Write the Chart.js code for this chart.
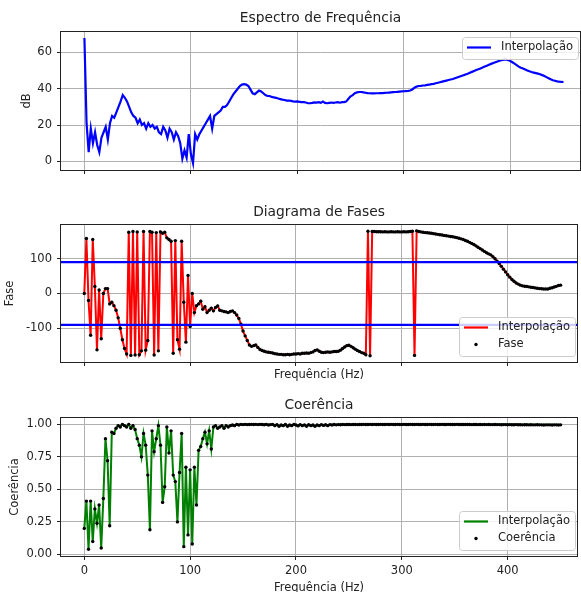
<!DOCTYPE html>
<html>
<head>
<meta charset="utf-8">
<title>Espectro, fases e coerência</title>
<script src="https://cdn.jsdelivr.net/npm/chart.js@4.4.0/dist/chart.umd.min.js"></script>
<style>
body { margin: 0; background: #fff; }
#fig { position: relative; width: 581px; height: 592px; overflow: hidden; }
canvas { position: absolute; left: 0; }
</style>
</head>
<body>
<div id="fig">
<canvas id="espectro" width="581" height="192" style="top:0"></canvas>
<canvas id="fases" width="581" height="196" style="top:192px"></canvas>
<canvas id="coerencia" width="581" height="204" style="top:388px"></canvas>
</div>
<script>
// frequencias (Hz)
var freq = [
    0, 2, 4, 6, 8, 10, 12, 14, 16, 18,
    20, 22, 24, 26, 28, 30, 32, 34, 36, 38,
    40, 42, 44, 46, 48, 50, 52, 54, 56, 58,
    60, 62, 64, 66, 68, 70, 72, 74, 76, 78,
    80, 82, 84, 86, 88, 90, 92, 94, 96, 98,
    100, 102, 104, 106, 108, 110, 112, 114, 116, 118,
    120, 122, 124, 126, 128, 130, 132, 134, 136, 138,
    140, 142, 144, 146, 148, 150, 152, 154, 156, 158,
    160, 162, 164, 166, 168, 170, 172, 174, 176, 178,
    180, 182, 184, 186, 188, 190, 192, 194, 196, 198,
    200, 202, 204, 206, 208, 210, 212, 214, 216, 218,
    220, 222, 224, 226, 228, 230, 232, 234, 236, 238,
    240, 242, 244, 246, 248, 250, 252, 254, 256, 258,
    260, 262, 264, 266, 268, 270, 272, 274, 276, 278,
    280, 282, 284, 286, 288, 290, 292, 294, 296, 298,
    300, 302, 304, 306, 308, 310, 312, 314, 316, 318,
    320, 322, 324, 326, 328, 330, 332, 334, 336, 338,
    340, 342, 344, 346, 348, 350, 352, 354, 356, 358,
    360, 362, 364, 366, 368, 370, 372, 374, 376, 378,
    380, 382, 384, 386, 388, 390, 392, 394, 396, 398,
    400, 402, 404, 406, 408, 410, 412, 414, 416, 418,
    420, 422, 424, 426, 428, 430, 432, 434, 436, 438,
    440, 442, 444, 446, 448, 450
];

// espectro em dB
var espectro = [
    68, 21, 5, 18, 10, 16, 9, 5, 13, 16,
    19, 12, 21, 25, 24, 27, 30, 33, 36.5, 35,
    33, 30, 27, 25, 24, 21, 23, 20, 21, 18,
    21, 19, 20, 18, 19, 16, 15, 19, 17, 13,
    18, 16, 12, 16, 14, 10, 1.5, 6, 2, 15,
    4, -1, 15, 12, 15, 17, 19, 21, 23, 25,
    18, 25, 26, 27, 28, 30, 30, 31, 33, 35,
    37, 38.5, 40, 41.5, 42.3, 42.5, 42.3, 41.5, 39.5, 37.5,
    37, 38, 39, 38.5, 37.5, 36.5, 36, 36, 35.5, 35.2,
    35, 34.6, 34.3, 34, 33.8, 33.5, 33.5, 33.3, 33, 32.9,
    33, 32.8, 32.6, 32.6, 32.4, 32, 32, 32.2, 32.5, 32.4,
    32.6, 32.2, 32.9, 32.2, 32, 32.2, 32.4, 32.2, 32.4, 32.6,
    32.3, 32.6, 32.6, 33, 34.5, 35.8, 36.5, 37.5, 38, 38.2,
    38.2, 38, 37.8, 37.6, 37.5, 37.4, 37.4, 37.5, 37.5, 37.6,
    37.6, 37.7, 37.8, 37.9, 38, 38.1, 38.2, 38.3, 38.4, 38.5,
    38.6, 38.7, 38.8, 39, 39.6, 40.6, 41.2, 41.5, 41.6, 41.8,
    41.9, 42.1, 42.3, 42.5, 42.7, 43, 43.3, 43.6, 43.9, 44.2,
    44.5, 44.8, 45.1, 45.4, 45.8, 46.2, 46.6, 47, 47.4, 47.9,
    48.3, 48.8, 49.3, 49.8, 50.3, 50.7, 51.2, 51.7, 52.2, 52.7,
    53.2, 53.7, 54.2, 54.6, 55, 55.4, 55.8, 56, 56.1, 55.8,
    55.3, 54.6, 53.8, 53, 52.2, 51.6, 51.1, 50.6, 50.1, 49.6,
    49.2, 48.9, 48.6, 48.3, 48, 47.5, 47, 46.4, 45.8, 45.2,
    44.7, 44.4, 44.1, 43.9, 43.8, 43.7
];

// fase em graus
var fase = [
    0, 158, -20, -120, 155, 20, -162, 10, -130, 0,
    14, 14, -30, -25, -35, -48, -70, -100, -133, -158,
    -174, 176, -178, 178, -177, 177, -176, -165, 178, -163,
    -135, 178, 176, -177, 175, -165, 177, 173, 176, 160,
    155, 150, -172, 152, -133, -160, 150, -25, -140, 52,
    -95, 0, -55, -35, -30, -22, -45, -38, -55, -48,
    -42, -50, -40, -36, -48, -50, -52, -53, -55, -52,
    -50, -55, -62, -72, -88, -108, -122, -135, -148, -152,
    -150, -148, -155, -161, -164, -166, -168, -169, -170, -171,
    -173, -174, -175, -175, -176, -176, -175, -176, -175, -174,
    -174, -173, -174, -172, -172, -171, -172, -170, -168, -164,
    -162, -166, -169, -170, -169, -168, -169, -168, -167, -167,
    -166, -163, -158, -154, -150, -149, -152, -156, -160, -164,
    -167, -170, -172, -176, 179, -179, 178, 178, 177.5, 177.5,
    177.5, 177, 177.5, 177, 177, 177.5, 177, 177, 177.5, 177,
    177, 177.5, 177, 177.5, 178, 179, -178, 180, 178, 177,
    176, 175, 174.5, 174, 173, 172, 171, 170, 169, 168,
    167, 166, 165, 164, 163, 162, 160.5, 159, 157, 155,
    152.5, 150, 147, 144, 141, 137, 133, 129, 125, 121,
    117, 114, 111, 106, 100, 93, 86, 78, 70, 62,
    54, 47, 40, 35, 30, 27, 24, 22, 21, 20,
    19, 18, 17, 16, 15, 14, 13.5, 13, 13, 13,
    15, 16.5, 18.5, 20.5, 23, 24
];

// coerencia
var coerencia = [
    0.20, 0.41, 0.04, 0.41, 0.10, 0.35, 0.24, 0.38, 0.05, 0.43,
    0.89, 0.72, 0.22, 0.94, 0.93, 0.97, 0.99, 0.98, 1.0, 0.99,
    0.98, 1.0, 0.97, 0.99, 0.96, 0.89, 0.84, 0.75, 0.93, 0.84,
    0.61, 0.19, 0.95, 0.79, 0.89, 0.99, 0.84, 0.40, 0.52, 0.98,
    0.78, 0.95, 0.61, 0.56, 0.25, 0.63, 0.93, 0.06, 0.67, 0.15,
    0.65, 0.08, 0.67, 0.38, 0.80, 0.83, 0.89, 0.94, 0.85, 0.95,
    0.81, 0.98, 0.99, 0.97, 0.98, 0.99, 0.97, 0.99, 0.98, 0.99,
    0.995, 0.99, 1.0, 0.995, 1.0, 0.998, 1.0, 0.998, 0.999, 1.0,
    0.999, 1.0, 0.998, 1.0, 0.999, 0.997, 1.0, 0.995, 0.998, 1.0,
    0.99, 0.998, 0.985, 0.995, 0.99, 1.0, 0.985, 0.995, 0.99, 1.0,
    0.995, 0.988, 0.998, 0.99, 0.996, 0.985, 0.998, 0.99, 0.995, 0.985,
    0.995, 0.99, 0.998, 0.992, 0.997, 0.99, 0.998, 0.995, 0.999, 0.996,
    0.998, 0.997, 0.999, 0.998, 0.999, 0.999, 0.998, 0.999, 0.999, 0.998,
    0.999, 0.999, 1.0, 0.999, 0.999, 1.0, 0.999, 1.0, 0.999, 0.999,
    1.0, 0.999, 0.999, 1.0, 0.999, 1.0, 0.999, 0.999, 1.0, 0.999,
    0.999, 1.0, 0.999, 0.999, 1.0, 0.999, 0.999, 1.0, 0.999, 0.999,
    1.0, 0.999, 0.999, 1.0, 0.999, 0.999, 1.0, 0.999, 0.999, 1.0,
    0.999, 0.999, 1.0, 0.999, 0.999, 0.999, 1.0, 0.999, 0.999, 0.999,
    0.999, 0.999, 0.999, 0.998, 0.999, 0.999, 0.998, 0.999, 0.998, 0.999,
    0.998, 0.999, 0.998, 0.998, 0.999, 0.998, 0.998, 0.997, 0.998, 0.998,
    0.997, 0.998, 0.997, 0.997, 0.998, 0.997, 0.997, 0.996, 0.997, 0.997,
    0.996, 0.997, 0.996, 0.996, 0.997, 0.996, 0.996, 0.995, 0.996, 0.996,
    0.996, 0.995, 0.996, 0.996, 0.995, 0.996
];

// linhas horizontais de referencia no diagrama de fases
var limiares = [90, -90];

// marcas dos eixos
var ticksFreq = [0, 100, 200, 300, 400];
var ticksDb = [0, 20, 40, 60];
var ticksFase = [-100, 0, 100];
var ticksCoer = [0, 0.25, 0.5, 0.75, 1.0];

var xMin = -22;
var xMax = 465.5;

Chart.defaults.font.family = "'DejaVu Sans', sans-serif";
Chart.defaults.font.size = 11.5;
Chart.defaults.color = "#222";

function pares(xs, ys) {
    return xs.map(function (x, i) { return { x: x, y: ys[i] }; });
}

function fixaTicks(valores) {
    return function (s) {
        s.ticks = valores.map(function (v) { return { value: v }; });
    };
}

// caixa preta em volta da area do grafico
var moldura = {
    id: "moldura",
    afterDatasetsDraw: function (chart) {
        var a = chart.chartArea;
        var ctx = chart.ctx;
        var l = Math.round(a.left), t = Math.round(a.top);
        var r = Math.round(a.right), b = Math.round(a.bottom);
        ctx.save();
        ctx.strokeStyle = "#222";
        ctx.lineWidth = 1;
        ctx.strokeRect(l - 0.5, t - 0.5, r - l + 1, b - t + 1);
        ctx.restore();
    }
};

// legenda dentro da area, estilo matplotlib
var legendaInterna = {
    id: "legendaInterna",
    afterDraw: function (chart, args, opts) {
        var itens = opts.itens || [];
        if (!itens.length) return;
        var a = chart.chartArea;
        var ctx = chart.ctx;
        var w = 116, h = 5 + 17 * itens.length;
        var x = Math.round(a.right) - w - 2;
        var y = opts.canto === "baixo" ? Math.round(a.bottom) - h - 6 : Math.round(a.top) + 5;
        ctx.save();
        ctx.beginPath();
        if (ctx.roundRect) ctx.roundRect(x + 0.5, y + 0.5, w, h, 3);
        else ctx.rect(x + 0.5, y + 0.5, w, h);
        ctx.fillStyle = "rgba(255,255,255,0.8)";
        ctx.fill();
        ctx.strokeStyle = "#cccccc";
        ctx.lineWidth = 1;
        ctx.stroke();
        ctx.font = "11.5px 'DejaVu Sans'";
        ctx.textBaseline = "middle";
        itens.forEach(function (it, i) {
            var yy = y + 10.5 + 17 * i;
            if (it.tipo === "linha") {
                ctx.beginPath();
                ctx.moveTo(x + 5, yy);
                ctx.lineTo(x + 29, yy);
                ctx.strokeStyle = it.cor;
                ctx.lineWidth = 2.2;
                ctx.stroke();
            } else {
                ctx.beginPath();
                ctx.arc(x + 17, yy, 1.7, 0, Math.PI * 2);
                ctx.fillStyle = it.cor;
                ctx.fill();
            }
            ctx.fillStyle = "#222";
            ctx.fillText(it.texto, x + 39, yy);
        });
        ctx.restore();
    }
};

function eixoX(rotulos, titulo, altura, tituloPad) {
    return {
        type: "linear",
        min: xMin,
        max: xMax,
        afterFit: function (s) { s.height = altura; },
        afterBuildTicks: fixaTicks(ticksFreq),
        ticks: { display: rotulos, padding: 4.5, color: "#222" },
        grid: { color: "#b0b0b0", lineWidth: 1, tickLength: 4, tickColor: "#222" },
        border: { display: false },
        title: { display: !!titulo, text: titulo || "", color: "#222", padding: { top: 0, bottom: tituloPad || 0 } }
    };
}

function eixoY(min, max, marcas, titulo, tituloPad, formato) {
    return {
        min: min,
        max: max,
        afterFit: function (s) { s.width = 61; },
        afterBuildTicks: fixaTicks(marcas),
        ticks: {
            padding: 5,
            color: "#222",
            callback: formato || function (v) { return v; }
        },
        grid: { color: "#b0b0b0", lineWidth: 1, tickLength: 4, tickColor: "#222" },
        border: { display: false },
        title: { display: true, text: titulo, color: "#222", padding: { top: tituloPad, bottom: 0 } }
    };
}

function titulo(texto, pt, pb) {
    return {
        display: true,
        text: texto,
        fullSize: false,
        color: "#222",
        font: { size: 13.8, weight: "normal" },
        padding: { top: pt, bottom: pb }
    };
}

var base = {
    responsive: false,
    animation: false,
    devicePixelRatio: 1,
    layout: { padding: { left: 0, right: 1, top: 0, bottom: 0 } }
};

// espectro de frequencia
new Chart(document.getElementById("espectro"), {
    type: "line",
    data: {
        datasets: [
            {
                label: "Interpolação",
                data: pares(freq, espectro),
                borderColor: "#0000ff",
                borderWidth: 2.2,
                pointRadius: 0,
                fill: false,
                lineTension: 0
            }
        ]
    },
    options: Object.assign({}, base, {
        scales: {
            x: eixoX(false, "", 22),
            y: eixoY(-4.8, 71.3, ticksDb, "dB", 19.8)
        },
        plugins: {
            legend: { display: false },
            tooltip: { enabled: false },
            title: titulo("Espectro de Frequência", 10.5, 4.9),
            legendaInterna: { canto: "topo", itens: [{ tipo: "linha", cor: "#0000ff", texto: "Interpolação" }] }
        }
    }),
    plugins: [moldura, legendaInterna]
});

// diagrama de fases
var dsFases = [
    {
        label: "Interpolação",
        data: pares(freq, fase),
        borderColor: "#ff0000",
        borderWidth: 2,
        pointRadius: 0,
        fill: false,
        lineTension: 0,
        order: 3
    },
    {
        label: "Fase",
        data: pares(freq, fase),
        showLine: false,
        pointRadius: 1.7,
        pointBorderWidth: 0,
        pointBackgroundColor: "#000",
        order: 2
    }
];
limiares.forEach(function (v) {
    dsFases.push({
        label: "limiar " + v,
        data: [{ x: xMin, y: v }, { x: xMax, y: v }],
        borderColor: "#0000ff",
        borderWidth: 2.2,
        pointRadius: 0,
        fill: false,
        order: 1
    });
});

new Chart(document.getElementById("fases"), {
    type: "line",
    data: { datasets: dsFases },
    options: Object.assign({}, base, {
        scales: {
            x: eixoX(false, "Frequência (Hz)", 26, 6.3),
            y: eixoY(-197, 197, ticksFase, "Fase", 3.1)
        },
        plugins: {
            legend: { display: false },
            tooltip: { enabled: false },
            title: titulo("Diagrama de Fases", 12, 4.4),
            legendaInterna: {
                canto: "baixo",
                itens: [
                    { tipo: "linha", cor: "#ff0000", texto: "Interpolação" },
                    { tipo: "ponto", cor: "#000", texto: "Fase" }
                ]
            }
        }
    }),
    plugins: [moldura, legendaInterna]
});

// coerencia
new Chart(document.getElementById("coerencia"), {
    type: "line",
    data: {
        datasets: [
            {
                label: "Interpolação",
                data: pares(freq, coerencia),
                borderColor: "#008000",
                borderWidth: 2,
                pointRadius: 0,
                fill: false,
                lineTension: 0,
                order: 2
            },
            {
                label: "Coerência",
                data: pares(freq, coerencia),
                showLine: false,
                pointRadius: 1.7,
                pointBorderWidth: 0,
                pointBackgroundColor: "#000",
                order: 1
            }
        ]
    },
    options: Object.assign({}, base, {
        scales: {
            x: eixoX(true, "Frequência (Hz)", 36, -3),
            y: eixoY(-0.012, 1.049, ticksCoer, "Coerência", 8.1, function (v) { return v.toFixed(2); })
        },
        plugins: {
            legend: { display: false },
            tooltip: { enabled: false },
            title: titulo("Coerência", 8.7, 4.7),
            legendaInterna: {
                canto: "baixo",
                itens: [
                    { tipo: "linha", cor: "#008000", texto: "Interpolação" },
                    { tipo: "ponto", cor: "#000", texto: "Coerência" }
                ]
            }
        }
    }),
    plugins: [moldura, legendaInterna]
});
</script>
</body>
</html>
